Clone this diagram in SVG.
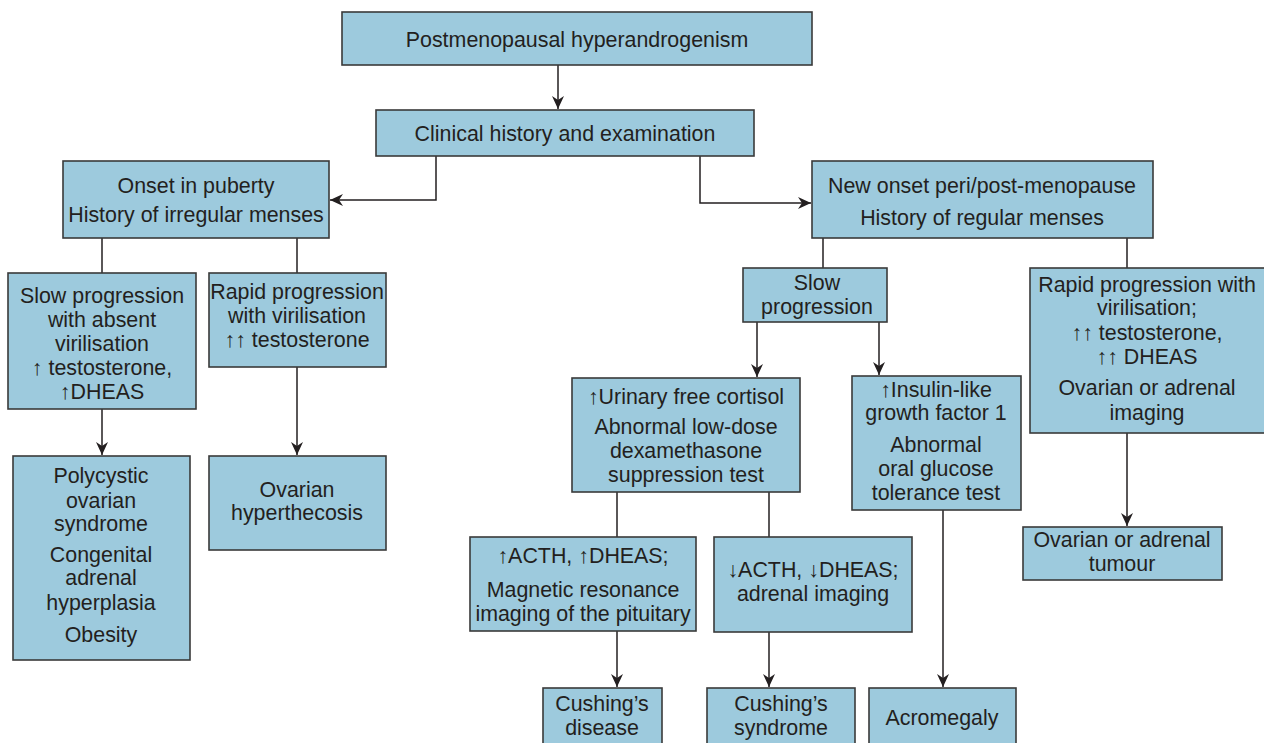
<svg xmlns="http://www.w3.org/2000/svg" width="1264" height="743" viewBox="0 0 1264 743">
<style>
.box{fill:#9dcadd;stroke:#3a3a3a;stroke-width:1.6}
text{font-family:"Liberation Sans",Arial,"DejaVu Sans",sans-serif;font-size:21.4px;fill:#231f20;text-anchor:middle}
.c line,.c path{stroke:#231f20;stroke-width:1.5;fill:none}
</style>
<defs>
<marker id="ah" markerUnits="userSpaceOnUse" markerWidth="14" markerHeight="14" refX="13" refY="7" orient="auto">
<path d="M0,1 L13,7 L0,13 L4,7 z" fill="#231f20"/>
</marker>
</defs>
<rect width="1264" height="743" fill="#fff"/>
<g class="c" id="connectors">
<line x1="558" y1="65" x2="558" y2="109" marker-end="url(#ah)"/>
<path d="M436,156 V200 H330" marker-end="url(#ah)"/>
<path d="M700,156 V203 H811" marker-end="url(#ah)"/>
<line x1="102" y1="238" x2="102" y2="273"/>
<line x1="297" y1="238" x2="297" y2="273"/>
<line x1="823" y1="238" x2="823" y2="268"/>
<line x1="1127" y1="238" x2="1127" y2="268"/>
<line x1="102" y1="409" x2="102" y2="455" marker-end="url(#ah)"/>
<line x1="297" y1="367" x2="297" y2="455" marker-end="url(#ah)"/>
<line x1="757" y1="322" x2="757" y2="377" marker-end="url(#ah)"/>
<line x1="879" y1="322" x2="879" y2="375" marker-end="url(#ah)"/>
<line x1="617" y1="492" x2="617" y2="537"/>
<line x1="769" y1="492" x2="769" y2="537"/>
<line x1="617" y1="631" x2="617" y2="687" marker-end="url(#ah)"/>
<line x1="769" y1="632" x2="769" y2="687" marker-end="url(#ah)"/>
<line x1="943" y1="510" x2="943" y2="687" marker-end="url(#ah)"/>
<line x1="1127" y1="433" x2="1127" y2="526" marker-end="url(#ah)"/>
</g>
<g id="n1"><rect class="box" x="342" y="12" width="470" height="53"/><text x="577" y="47">Postmenopausal hyperandrogenism</text></g>
<g id="n2"><rect class="box" x="376" y="110" width="378" height="46"/><text x="565" y="141">Clinical history and examination</text></g>
<g id="n3"><rect class="box" x="63" y="161" width="266" height="77"/><text x="196" y="193">Onset in puberty</text><text x="196" y="222">History of irregular menses</text></g>
<g id="n4"><rect class="box" x="812" y="161" width="341" height="77"/><text x="982" y="193">New onset peri/post-menopause</text><text x="982" y="225">History of regular menses</text></g>
<g id="n5"><rect class="box" x="8" y="273" width="188" height="136"/><text x="102" y="303">Slow progression</text><text x="102" y="327">with absent</text><text x="102" y="351">virilisation</text><text x="102" y="375">↑ testosterone,</text><text x="102" y="399">↑DHEAS</text></g>
<g id="n6"><rect class="box" x="209" y="273" width="177" height="94"/><text x="297" y="299">Rapid progression</text><text x="297" y="323">with virilisation</text><text x="297" y="347">↑↑ testosterone</text></g>
<g id="n7"><rect class="box" x="743" y="268" width="144" height="54"/><text x="817" y="290">Slow</text><text x="817" y="314">progression</text></g>
<g id="n8"><rect class="box" x="1030" y="268" width="240" height="165"/><text x="1147" y="292">Rapid progression with</text><text x="1147" y="315">virilisation;</text><text x="1147" y="340">↑↑ testosterone,</text><text x="1147" y="364">↑↑ DHEAS</text><text x="1147" y="395">Ovarian or adrenal</text><text x="1147" y="420">imaging</text></g>
<g id="n9"><rect class="box" x="572" y="378" width="228" height="114"/><text x="686" y="404">↑Urinary free cortisol</text><text x="686" y="434">Abnormal low-dose</text><text x="686" y="458">dexamethasone</text><text x="686" y="482">suppression test</text></g>
<g id="n10"><rect class="box" x="852" y="376" width="169" height="134"/><text x="936" y="397">↑Insulin-like</text><text x="936" y="420">growth factor 1</text><text x="936" y="452">Abnormal</text><text x="936" y="476">oral glucose</text><text x="936" y="500">tolerance test</text></g>
<g id="n11"><rect class="box" x="13" y="456" width="177" height="204"/><text x="101" y="483">Polycystic</text><text x="101" y="508">ovarian</text><text x="101" y="531">syndrome</text><text x="101" y="562">Congenital</text><text x="101" y="585">adrenal</text><text x="101" y="610">hyperplasia</text><text x="101" y="642">Obesity</text></g>
<g id="n12"><rect class="box" x="209" y="456" width="177" height="94"/><text x="297" y="497">Ovarian</text><text x="297" y="520">hyperthecosis</text></g>
<g id="n13"><rect class="box" x="470" y="537" width="226" height="94"/><text x="583" y="563">↑ACTH, ↑DHEAS;</text><text x="583" y="597">Magnetic resonance</text><text x="583" y="621">imaging of the pituitary</text></g>
<g id="n14"><rect class="box" x="714" y="537" width="198" height="95"/><text x="813" y="577">↓ACTH, ↓DHEAS;</text><text x="813" y="601">adrenal imaging</text></g>
<g id="n15"><rect class="box" x="1023" y="527" width="199" height="53"/><text x="1122" y="547">Ovarian or adrenal</text><text x="1122" y="571">tumour</text></g>
<g id="n16"><rect class="box" x="543" y="688" width="119" height="70"/><text x="602" y="711">Cushing’s</text><text x="602" y="735">disease</text></g>
<g id="n17"><rect class="box" x="707" y="688" width="148" height="70"/><text x="781" y="711">Cushing’s</text><text x="781" y="735">syndrome</text></g>
<g id="n18"><rect class="box" x="869" y="688" width="147" height="70"/><text x="942" y="725">Acromegaly</text></g>
</svg>
